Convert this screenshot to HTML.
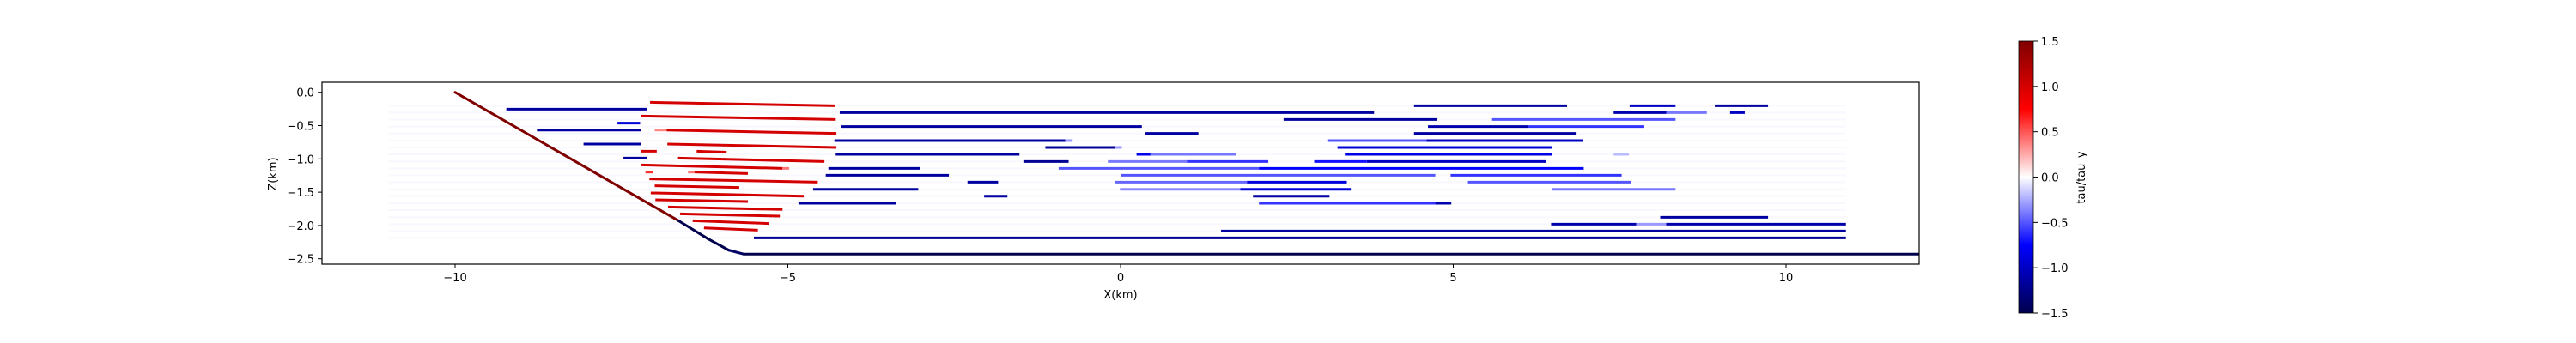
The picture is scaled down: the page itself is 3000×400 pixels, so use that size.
<!DOCTYPE html>
<html><head><meta charset="utf-8"><style>
html,body{margin:0;padding:0;background:#fff;}
svg{display:block;font-family:"DejaVu Sans","Liberation Sans",sans-serif;}
</style></head><body>
<svg id="chart" width="3000" height="400" viewBox="0 0 3000 400" xmlns="http://www.w3.org/2000/svg">
<defs>
<linearGradient id="cbg" x1="0" y1="1" x2="0" y2="0">
<stop offset="0" stop-color="rgb(0,0,77)"/><stop offset="0.25" stop-color="rgb(0,0,255)"/>
<stop offset="0.5" stop-color="rgb(255,255,255)"/><stop offset="0.75" stop-color="rgb(255,0,0)"/>
<stop offset="1" stop-color="rgb(128,0,0)"/></linearGradient>
<clipPath id="clip"><rect x="375" y="96" width="1860" height="212"/></clipPath>
</defs>
<g id="bg-rows" clip-path="url(#clip)"></g>
<g id="segs" clip-path="url(#clip)"></g>
<g id="fault" clip-path="url(#clip)"></g>
<rect x="375" y="96" width="1860" height="212" fill="none" stroke="#000" stroke-width="1.2"/>
<g id="xticks"></g>
<g id="yticks"></g>
<text x="1305" y="348" font-size="13" text-anchor="middle">X(km)</text>
<text transform="translate(322,203) rotate(-90)" font-size="13" text-anchor="middle">Z(km)</text>
<rect x="2351" y="48" width="17" height="317" fill="url(#cbg)" stroke="#000" stroke-width="0.8"/>
<g id="cbticks"></g>
<text transform="translate(2428,207) rotate(-90)" font-size="13" text-anchor="middle">tau/tau_y</text>
</svg>
<script>
// ---- data ----
const xTicks = [-10, -5, 0, 5, 10];
const yTicks = [0.0, -0.5, -1.0, -1.5, -2.0, -2.5];
const cbTicks = [1.5, 1.0, 0.5, 0.0, -0.5, -1.0, -1.5];
const rowLevels = [-0.202,-0.305,-0.408,-0.515,-0.618,-0.725,-0.828,-0.932,-1.039,-1.142,-1.245,-1.348,-1.456,-1.559,-1.666,-1.769,-1.877,-1.980,-2.083,-2.186];
const segZ0 = [-0.150,-0.356,-0.567,-0.567,-0.777,-0.884,-0.884,-0.988,-1.091,-1.142,-1.198,-1.198,-1.198,-1.301,-1.404,-1.511,-1.615,-1.722,-1.825,-1.928,-2.036,
 -0.253,-0.305,-0.463,-0.515,-0.567,-0.725,-0.725,-0.777,-0.828,-0.828,-0.932,-0.932,-0.932,-0.988,
 -1.039,-1.039,-1.039,-1.039,-1.039,-1.142,-1.142,-1.142,-1.245,-1.245,-1.245,-1.348,-1.348,-1.348,-1.348,
 -1.456,-1.456,-1.456,-1.456,-1.559,-1.559,-1.666,-1.666,-1.666,-1.877,-1.980,-1.980,-1.980,-2.083,-2.186,
 -0.202,-0.202,-0.202,-0.305,-0.305,-0.305,-0.408,-0.408,-0.515,-0.515,-0.618,-0.618,-0.725,-0.725,-0.828,-0.932,-0.932];
const segZ1 = [-0.202,-0.408,-0.567,-0.618,-0.828,-0.884,-0.900,-1.039,-1.142,-1.142,-1.198,-1.198,-1.220,-1.348,-1.430,-1.559,-1.640,-1.760,-1.860,-1.970,-2.070,
 -0.253,-0.305,-0.463,-0.515,-0.567,-0.725,-0.725,-0.777,-0.828,-0.828,-0.932,-0.932,-0.932,-0.988,
 -1.039,-1.039,-1.039,-1.039,-1.039,-1.142,-1.142,-1.142,-1.245,-1.245,-1.245,-1.348,-1.348,-1.348,-1.348,
 -1.456,-1.456,-1.456,-1.456,-1.559,-1.559,-1.666,-1.666,-1.666,-1.877,-1.980,-1.980,-1.980,-2.083,-2.186,
 -0.202,-0.202,-0.202,-0.305,-0.305,-0.305,-0.408,-0.408,-0.515,-0.515,-0.618,-0.618,-0.725,-0.725,-0.828,-0.932,-0.932];
const segX0 = [-7.07,-7.20,-7.00,-6.82,-6.81,-7.21,-6.37,-6.65,-7.20,-5.08,-7.14,-6.50,-6.40,-7.08,-7.00,-7.06,-6.99,-6.80,-6.62,-6.43,-6.26,
 -9.23,-4.22,-7.56,-4.20,-8.77,-4.30,-0.83,-8.07,-1.13,-0.09,-4.28,0.24,0.45,-7.47,
 -1.46,-0.19,1.00,2.91,3.70,-4.39,-0.93,2.08,-4.43,0.00,4.96,-2.30,-0.09,1.90,5.22,
 -4.62,-0.01,1.80,6.49,-2.05,1.99,-4.84,2.08,4.73,8.11,6.47,7.75,8.20,1.51,-5.51,
 4.41,7.65,8.93,7.41,8.20,9.16,2.45,5.57,4.62,6.12,0.37,4.41,3.12,4.60,3.26,3.37,7.41];
const segX1 = [-4.29,-4.28,-6.82,-4.27,-4.27,-6.97,-5.92,-4.45,-5.08,-4.98,-7.03,-6.40,-5.60,-4.55,-5.73,-4.76,-5.60,-5.08,-5.12,-5.28,-5.45,
 -7.11,3.81,-7.22,0.32,-7.20,-0.83,-0.72,-7.20,-0.09,0.02,-1.52,0.45,1.73,-7.12,
 -0.78,1.00,2.22,3.70,6.39,-3.01,2.08,6.96,-2.58,4.73,7.53,-1.84,1.90,3.40,7.67,
 -3.04,1.80,3.46,8.34,-1.70,3.14,-3.37,4.73,4.97,9.73,7.75,8.20,10.90,10.90,10.90,
 6.71,8.34,9.73,8.20,8.81,9.38,4.75,8.34,6.12,7.87,1.17,6.84,4.60,6.95,6.49,6.49,7.64];
const segV = [1.0,1.0,0.35,1.0,1.0,1.0,1.0,1.0,1.0,0.4,0.6,0.4,1.0,1.0,1.0,1.0,1.0,1.0,1.0,1.0,1.0,
 -1.15,-1.15,-0.9,-1.15,-1.15,-1.15,-0.3,-1.15,-1.2,-0.3,-1.15,-0.8,-0.4,-1.15,
 -1.2,-0.4,-0.6,-0.7,-1.0,-1.15,-0.5,-0.75,-1.15,-0.5,-0.6,-1.15,-0.45,-0.9,-0.5,
 -1.15,-0.35,-0.9,-0.4,-1.15,-1.15,-1.15,-0.6,-1.1,-1.15,-1.1,-0.3,-1.1,-1.15,-1.2,
 -1.15,-1.0,-1.15,-1.1,-0.4,-1.0,-1.15,-0.5,-1.1,-0.6,-1.15,-1.15,-0.5,-1.0,-0.9,-0.85,-0.2];
const faultX = [-10, -6.64, -6.2, -5.89, -5.66, 12.5];
const faultZ = [0, -1.93, -2.2, -2.37, -2.43, -2.43];
const faultV = [1.5, -1.5, -1.5, -1.4, -1.5];

// ---- axes ----
const X0=375, X1=2235, XMIN=-12, XMAX=12;
const Y0=96, Y1=308, ZMAX=0.151, ZMIN=-2.581;
function sx(x){return X0+(x-XMIN)/(XMAX-XMIN)*(X1-X0);}
function sy(z){return Y0+(ZMAX-z)/(ZMAX-ZMIN)*(Y1-Y0);}
function cmap(v){
  let t=Math.max(0,Math.min(1,(v+1.5)/3)),r,g,b;
  if(t<0.25){r=0;g=0;b=0.3+0.7*t/0.25;}
  else if(t<0.5){const s=(t-0.25)/0.25;r=s;g=s;b=1;}
  else if(t<0.75){const s=(t-0.5)/0.25;r=1;g=1-s;b=1-s;}
  else{const s=(t-0.75)/0.25;r=1-0.5*s;g=0;b=0;}
  return `rgb(${Math.round(r*255)},${Math.round(g*255)},${Math.round(b*255)})`;
}
const NS="http://www.w3.org/2000/svg";
function mk(tag,attrs,parent){const e=document.createElementNS(NS,tag);for(const k in attrs)e.setAttribute(k,attrs[k]);parent.appendChild(e);return e;}

const bg=document.getElementById('bg-rows');
rowLevels.forEach((z)=>{
  const l=mk('line',{x1:sx(-11),x2:sx(10.9),y1:sy(z),y2:sy(z),stroke:'#f8f8fe','stroke-width':2},bg);
  
  
});

const sg=document.getElementById('segs');
for(let i=0;i<segV.length;i++){
  const l=mk('line',{x1:sx(segX0[i]),x2:sx(segX1[i]),y1:sy(segZ0[i]),y2:sy(segZ1[i]),stroke:cmap(segV[i]),'stroke-width':3},sg);
  
  
}

const fg=document.getElementById('fault');
for(let i=0;i<faultV.length;i++){
  const l=mk('line',{x1:sx(faultX[i]),x2:sx(faultX[i+1]),y1:sy(faultZ[i]),y2:sy(faultZ[i+1]),stroke:cmap(faultV[i]),'stroke-width':3,'stroke-linecap':'round'},fg);
  
  
}

const xg=document.getElementById('xticks');
xTicks.forEach(v=>{
  const t=mk('line',{x1:sx(v),x2:sx(v),y1:Y1,y2:Y1+5,stroke:'#000','stroke-width':1},xg);
  
  
  const tx=mk('text',{x:sx(v),y:Y1+20,'font-size':13,'text-anchor':'middle'},xg);
  tx.textContent=(v<0?'\u2212':'')+Math.abs(v);
  
  
});
const yg=document.getElementById('yticks');
yTicks.forEach(v=>{
  const t=mk('line',{x1:X0-5,x2:X0,y1:sy(v),y2:sy(v),stroke:'#000','stroke-width':1},yg);
  
  
  const tx=mk('text',{x:X0-9,y:sy(v)+5,'font-size':13,'text-anchor':'end'},yg);
  tx.textContent=(v<0?'\u2212':'')+Math.abs(v).toFixed(1);
  
  
});
const cg=document.getElementById('cbticks');
const CB0=48, CB1=365;
cbTicks.forEach(v=>{
  const y=CB1-(v+1.5)/3*(CB1-CB0);
  const t=mk('line',{x1:2368,x2:2373,y1:y,y2:y,stroke:'#000','stroke-width':1},cg);
  
  
  const tx=mk('text',{x:2377,y:y+5,'font-size':13},cg);
  tx.textContent=(v<0?'\u2212':'')+Math.abs(v).toFixed(1);
  
  
});
</script>
</body></html>
